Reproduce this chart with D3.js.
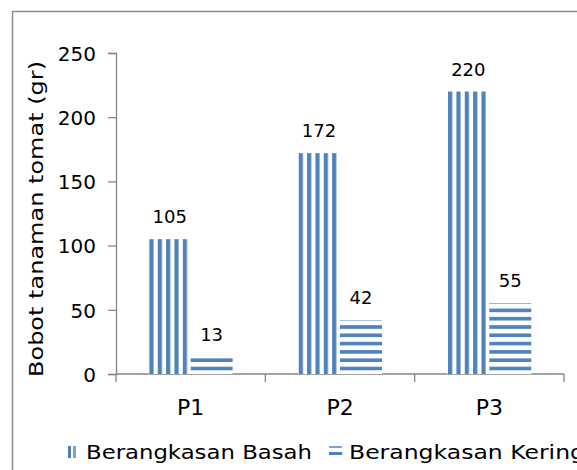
<!DOCTYPE html>
<html>
<head>
<meta charset="utf-8">
<script src="https://cdn.jsdelivr.net/npm/d3@7"></script>
<style>
  html, body { margin: 0; padding: 0; background: #fff; }
  svg { display: block; }
  text { font-family: "DejaVu Sans", "Open Sans", sans-serif; fill: #000; }
</style>
</head>
<body>
<svg id="chart" width="577" height="470"></svg>
<script>
// Data
const categories = ["P1", "P2", "P3"];
const seriesNames = ["Berangkasan Basah", "Berangkasan Kering"];
const basah = [105, 172, 220];
const kering = [13, 42, 55];
const yTicks = [0, 50, 100, 150, 200, 250];

const blue = "#4F81BD";
const axisGrey = "#868686";

const svg = d3.select("#chart");

// Outer chart frame
svg.append("rect")
  .attr("x", 12.5).attr("y", 11.5)
  .attr("width", 600).attr("height", 500)
  .attr("fill", "none").attr("stroke", "#8c8c8c").attr("stroke-width", 1.5);

const defs = svg.append("defs");
// Vertical stripes
const pv = defs.append("pattern").attr("id", "vstripe")
  .attr("patternUnits", "userSpaceOnUse").attr("width", 8.35).attr("height", 10);
pv.append("rect").attr("width", 8.35).attr("height", 10).attr("fill", "#fff");
pv.append("rect").attr("x", 0).attr("width", 4.2).attr("height", 10).attr("fill", blue);
// Horizontal stripes
const ph = defs.append("pattern").attr("id", "hstripe")
  .attr("patternUnits", "userSpaceOnUse").attr("width", 10).attr("height", 8.3)
  .attr("y", 374 % 8.3);
ph.append("rect").attr("width", 10).attr("height", 8.3).attr("fill", "#fff");
ph.append("rect").attr("y", 1).attr("width", 10).attr("height", 3.6).attr("fill", blue);

const x0 = 116, x1 = 564, yTop = 53, yBot = 374;

const x = d3.scaleBand().domain(categories).range([x0, x1]).paddingInner(0).paddingOuter(0);
const inner = d3.scaleBand().domain(seriesNames).range([0, x.bandwidth()]).paddingOuter(0.78).paddingInner(0);
const y = d3.scaleLinear().domain([0, 250]).range([yBot, yTop]);

// Y axis
const yAxis = svg.append("g").attr("transform", `translate(${x0},0)`)
  .call(d3.axisLeft(y).tickValues(yTicks).tickSize(8).tickPadding(12));
yAxis.select(".domain").attr("stroke", axisGrey).attr("stroke-width", 1.3);
yAxis.selectAll(".tick line").attr("stroke", axisGrey).attr("stroke-width", 1.3);
yAxis.selectAll(".tick text").style("font-size", "20px").attr("fill", "#000")
  .attr("dy", "0.36em");

// X axis
const xAxis = svg.append("g").attr("transform", `translate(0,${yBot})`)
  .call(d3.axisBottom(x).tickSize(0).tickPadding(0));
xAxis.select(".domain").attr("stroke", axisGrey).attr("stroke-width", 1.3)
  .attr("d", `M${x0},0H${x1}`);
xAxis.selectAll(".tick text").style("font-size", "22px").attr("fill", "#000")
  .attr("y", 25).attr("dy", "0.72em");
// Category separators
xAxis.selectAll(".sep").data([x0, ...categories.map(c => x(c) + x.bandwidth())])
  .enter().append("line").attr("class", "sep")
  .attr("x1", d => d).attr("x2", d => d).attr("y1", 0).attr("y2", 8)
  .attr("stroke", axisGrey).attr("stroke-width", 1.3);

// Bars
const rows = categories.map((c, i) => ({ c, vals: [
  { s: seriesNames[0], v: basah[i], fill: "url(#vstripe)" },
  { s: seriesNames[1], v: kering[i], fill: "url(#hstripe)" }
]}));

const groups = svg.selectAll(".grp").data(rows).enter().append("g")
  .attr("transform", d => `translate(${x(d.c)},0)`);

groups.selectAll("rect").data(d => d.vals).enter().append("rect")
  .attr("x", d => inner(d.s)).attr("width", inner.bandwidth())
  .attr("y", d => y(d.v)).attr("height", d => yBot - y(d.v))
  .attr("fill", d => d.fill);

groups.selectAll(".lbl").data(d => d.vals).enter().append("text")
  .attr("class", "lbl")
  .attr("x", d => inner(d.s) + inner.bandwidth() / 2)
  .attr("y", d => y(d.v) - 16)
  .attr("text-anchor", "middle").style("font-size", "18px")
  .text(d => d.v);

// Y axis title
svg.append("text")
  .attr("transform", `translate(43,219) rotate(-90)`)
  .attr("text-anchor", "middle").style("font-size", "20px")
  .attr("textLength", 316).attr("lengthAdjust", "spacingAndGlyphs")
  .text("Bobot tanaman tomat  (gr)");

// Legend
const legend = svg.append("g").attr("transform", "translate(0,452)");
const legendItems = [
  { name: seriesNames[0], x: 68, kind: "v", len: 226 },
  { name: seriesNames[1], x: 329, kind: "h", len: 236 }
];
legendItems.forEach(it => {
  const g = legend.append("g").attr("transform", `translate(${it.x},0)`);
  if (it.kind === "v") {
    g.append("rect").attr("x", 0).attr("y", -6).attr("width", 3).attr("height", 12).attr("fill", blue);
    g.append("rect").attr("x", 5).attr("y", -6).attr("width", 3).attr("height", 12).attr("fill", "#7fa3d1");
  } else {
    g.append("rect").attr("x", 0).attr("y", -6).attr("width", 13).attr("height", 2).attr("fill", "#7fa3d1");
    g.append("rect").attr("x", 0).attr("y", 0).attr("width", 13).attr("height", 3).attr("fill", blue);
  }
  g.append("text").attr("x", it.kind === "v" ? 18 : 20).attr("y", 0).attr("dy", "0.36em")
    .style("font-size", "20px")
    .attr("textLength", it.len).attr("lengthAdjust", "spacingAndGlyphs")
    .text(it.name);
});
</script>
</body>
</html>
